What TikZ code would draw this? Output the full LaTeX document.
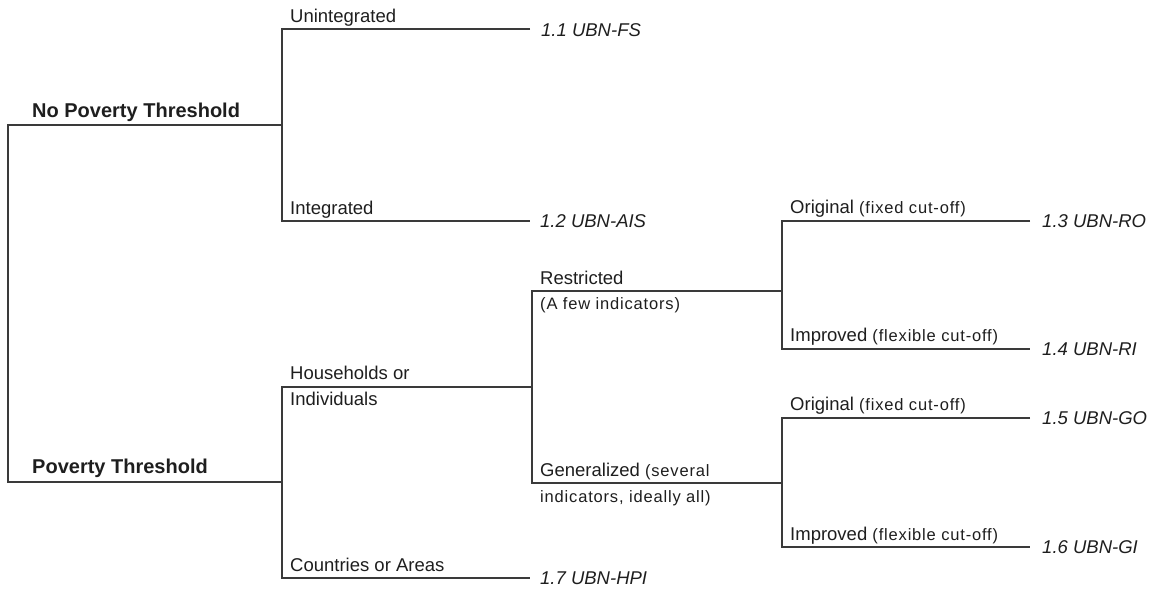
\documentclass[tikz,border=0pt]{standalone}
\usepackage{fontspec}
\setmainfont{Liberation Sans}
\newfontfamily\smallfam[LetterSpace=5]{Liberation Sans}
\definecolor{linec}{HTML}{3A3A3A}
\definecolor{txtc}{HTML}{1E1E1E}
\begin{document}
\begin{tikzpicture}[x=1pt,y=-1pt,
  branch/.style={draw=linec,line width=1.3pt},
  lab/.style={anchor=base west,inner sep=0pt,text=txtc,font=\fontsize{18.5}{20}\selectfont},
  toplab/.style={anchor=base west,inner sep=0pt,text=txtc,font=\bfseries\fontsize{20}{22}\selectfont},
  leaf/.style={anchor=base west,inner sep=0pt,text=txtc,font=\itshape\fontsize{18.5}{20}\selectfont}]
\newcommand{\smalltxt}[1]{{\smallfam\fontsize{16.5}{18}\selectfont #1}}
\useasboundingbox (0,0) rectangle (1156,589);
% coordinates
\coordinate (root1) at (8,125);
\coordinate (root2) at (8,482);
\coordinate (j1) at (282,125);
\coordinate (j1t) at (282,29);
\coordinate (j1b) at (282,221);
\coordinate (e11) at (530,29);
\coordinate (e12) at (530,221);
\coordinate (j2) at (282,482);
\coordinate (j2t) at (282,387);
\coordinate (j2b) at (282,578);
\coordinate (e17) at (530,578);
\coordinate (j3) at (532,387);
\coordinate (j3t) at (532,291);
\coordinate (j3b) at (532,483);
\coordinate (j4) at (782,291);
\coordinate (j4t) at (782,221);
\coordinate (j4b) at (782,349);
\coordinate (j5) at (782,483);
\coordinate (j5t) at (782,418);
\coordinate (j5b) at (782,547);
\coordinate (e13) at (1030,221);
\coordinate (e14) at (1030,349);
\coordinate (e15) at (1030,418);
\coordinate (e16) at (1030,547);
% connectors
\draw[branch] (j1) -- (root1) -- (root2) -- (j2);
\draw[branch] (e11) -- (j1t) -- (j1b) -- (e12);
\draw[branch] (j3) -- (j2t) -- (j2b) -- (e17);
\draw[branch] (j4) -- (j3t) -- (j3b) -- (j5);
\draw[branch] (e13) -- (j4t) -- (j4b) -- (e14);
\draw[branch] (e15) -- (j5t) -- (j5b) -- (e16);
% labels
\node[toplab] (npt) at (32,117) {No Poverty Threshold};
\node[toplab] (pt) at (32,473) {Poverty Threshold};
\node[lab] (unint) at (290,22.5) {Unintegrated};
\node[lab] (integ) at (290,214) {Integrated};
\node[lab] (hh) at (290,379.5) {Households or};
\node[lab] (ind) at (290,405.5) {Individuals};
\node[lab] (ctry) at (290,571) {Countries or Areas};
\node[lab] (restr) at (540,284) {Restricted};
\node[lab] (restr2) at (540,309.5) {\smalltxt{(A few indicators)}};
\node[lab] (gen) at (540,476) {Generalized \smalltxt{(several}};
\node[lab] (gen2) at (540,502.5) {\smalltxt{indicators, ideally all)}};
\node[lab] (ro) at (790,213) {Original \smalltxt{(fixed cut-off)}};
\node[lab] (ri) at (790,341.5) {Improved \smalltxt{(flexible cut-off)}};
\node[lab] (go) at (790,410.5) {Original \smalltxt{(fixed cut-off)}};
\node[lab] (gi) at (790,540) {Improved \smalltxt{(flexible cut-off)}};
% leaves
\node[leaf] (l11) at (541,36) {1.1 UBN-FS};
\node[leaf] (l12) at (540,227) {1.2 UBN-AIS};
\node[leaf] (l13) at (1042,227) {1.3 UBN-RO};
\node[leaf] (l14) at (1042,355) {1.4 UBN-RI};
\node[leaf] (l15) at (1042,424) {1.5 UBN-GO};
\node[leaf] (l16) at (1042,553) {1.6 UBN-GI};
\node[leaf] (l17) at (540,584) {1.7 UBN-HPI};
\end{tikzpicture}
\end{document}
